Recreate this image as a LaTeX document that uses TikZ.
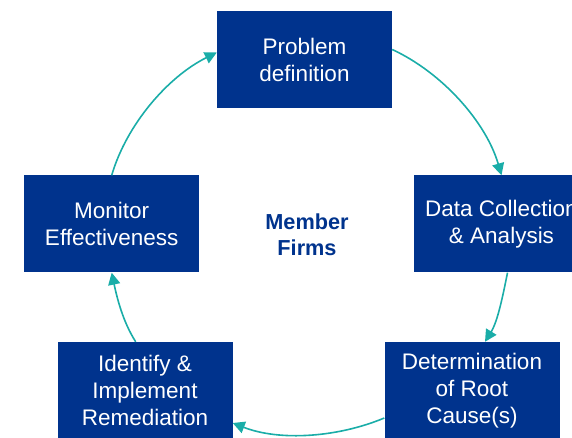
\documentclass[tikz,border=0pt]{standalone}
\usepackage{fontspec}
\setmainfont{Liberation Sans}
\usetikzlibrary{arrows.meta,calc}
\definecolor{boxblue}{HTML}{00338D}
\definecolor{tealarc}{HTML}{1AADA8}
\begin{document}
\begin{tikzpicture}[x=1pt,y=1pt,
 stepbox/.style={fill=boxblue, draw=none, minimum width=175pt, minimum height=97pt, text=white, align=center, font=\fontsize{22.5}{27}\selectfont, inner sep=0pt},
 arr/.style={draw=tealarc, line width=1.6pt, -{Triangle[length=12pt,width=12pt]}, looseness=0.85},
 hub/.style={text=boxblue, align=center, font=\bfseries\fontsize{21.7}{26}\selectfont}]
\clip (0,0) rectangle (572,438);
\node[stepbox] (prob) at (304.5,378.5) {Problem\\definition};
\node[stepbox] (data) at (501.5,214) {Data Collection\\\& Analysis};
\node[stepbox] (det) at (472,47.5) {Determination\\of Root\\Cause(s)};
\node[stepbox] (ident) at (145,47.5) {Identify \&\\Implement\\Remediation};
\node[stepbox] (mon) at (111.7,214) {Monitor\\Effectiveness};
\node[hub] (mf) at (307,203) {Member\\Firms};
\draw[arr] (mon.north) to[out=73.7,in=206.3] ([yshift=7pt]prob.west);
\draw[arr] ([yshift=10pt]prob.east) to[out=-24.8,in=106.2] (data.north);
\draw[arr] ([xshift=6pt]data.south) to[out=-101.4,in=58.3] ([xshift=13pt]det.north);
\draw[arr] ([yshift=-27.5pt]det.west) to[out=-157.3,in=-21.4] ([yshift=-32.5pt]ident.east);
\draw[arr] ([xshift=-9.3pt]ident.north) to[out=122.7,in=281.9] (mon.south);
\end{tikzpicture}
\end{document}
